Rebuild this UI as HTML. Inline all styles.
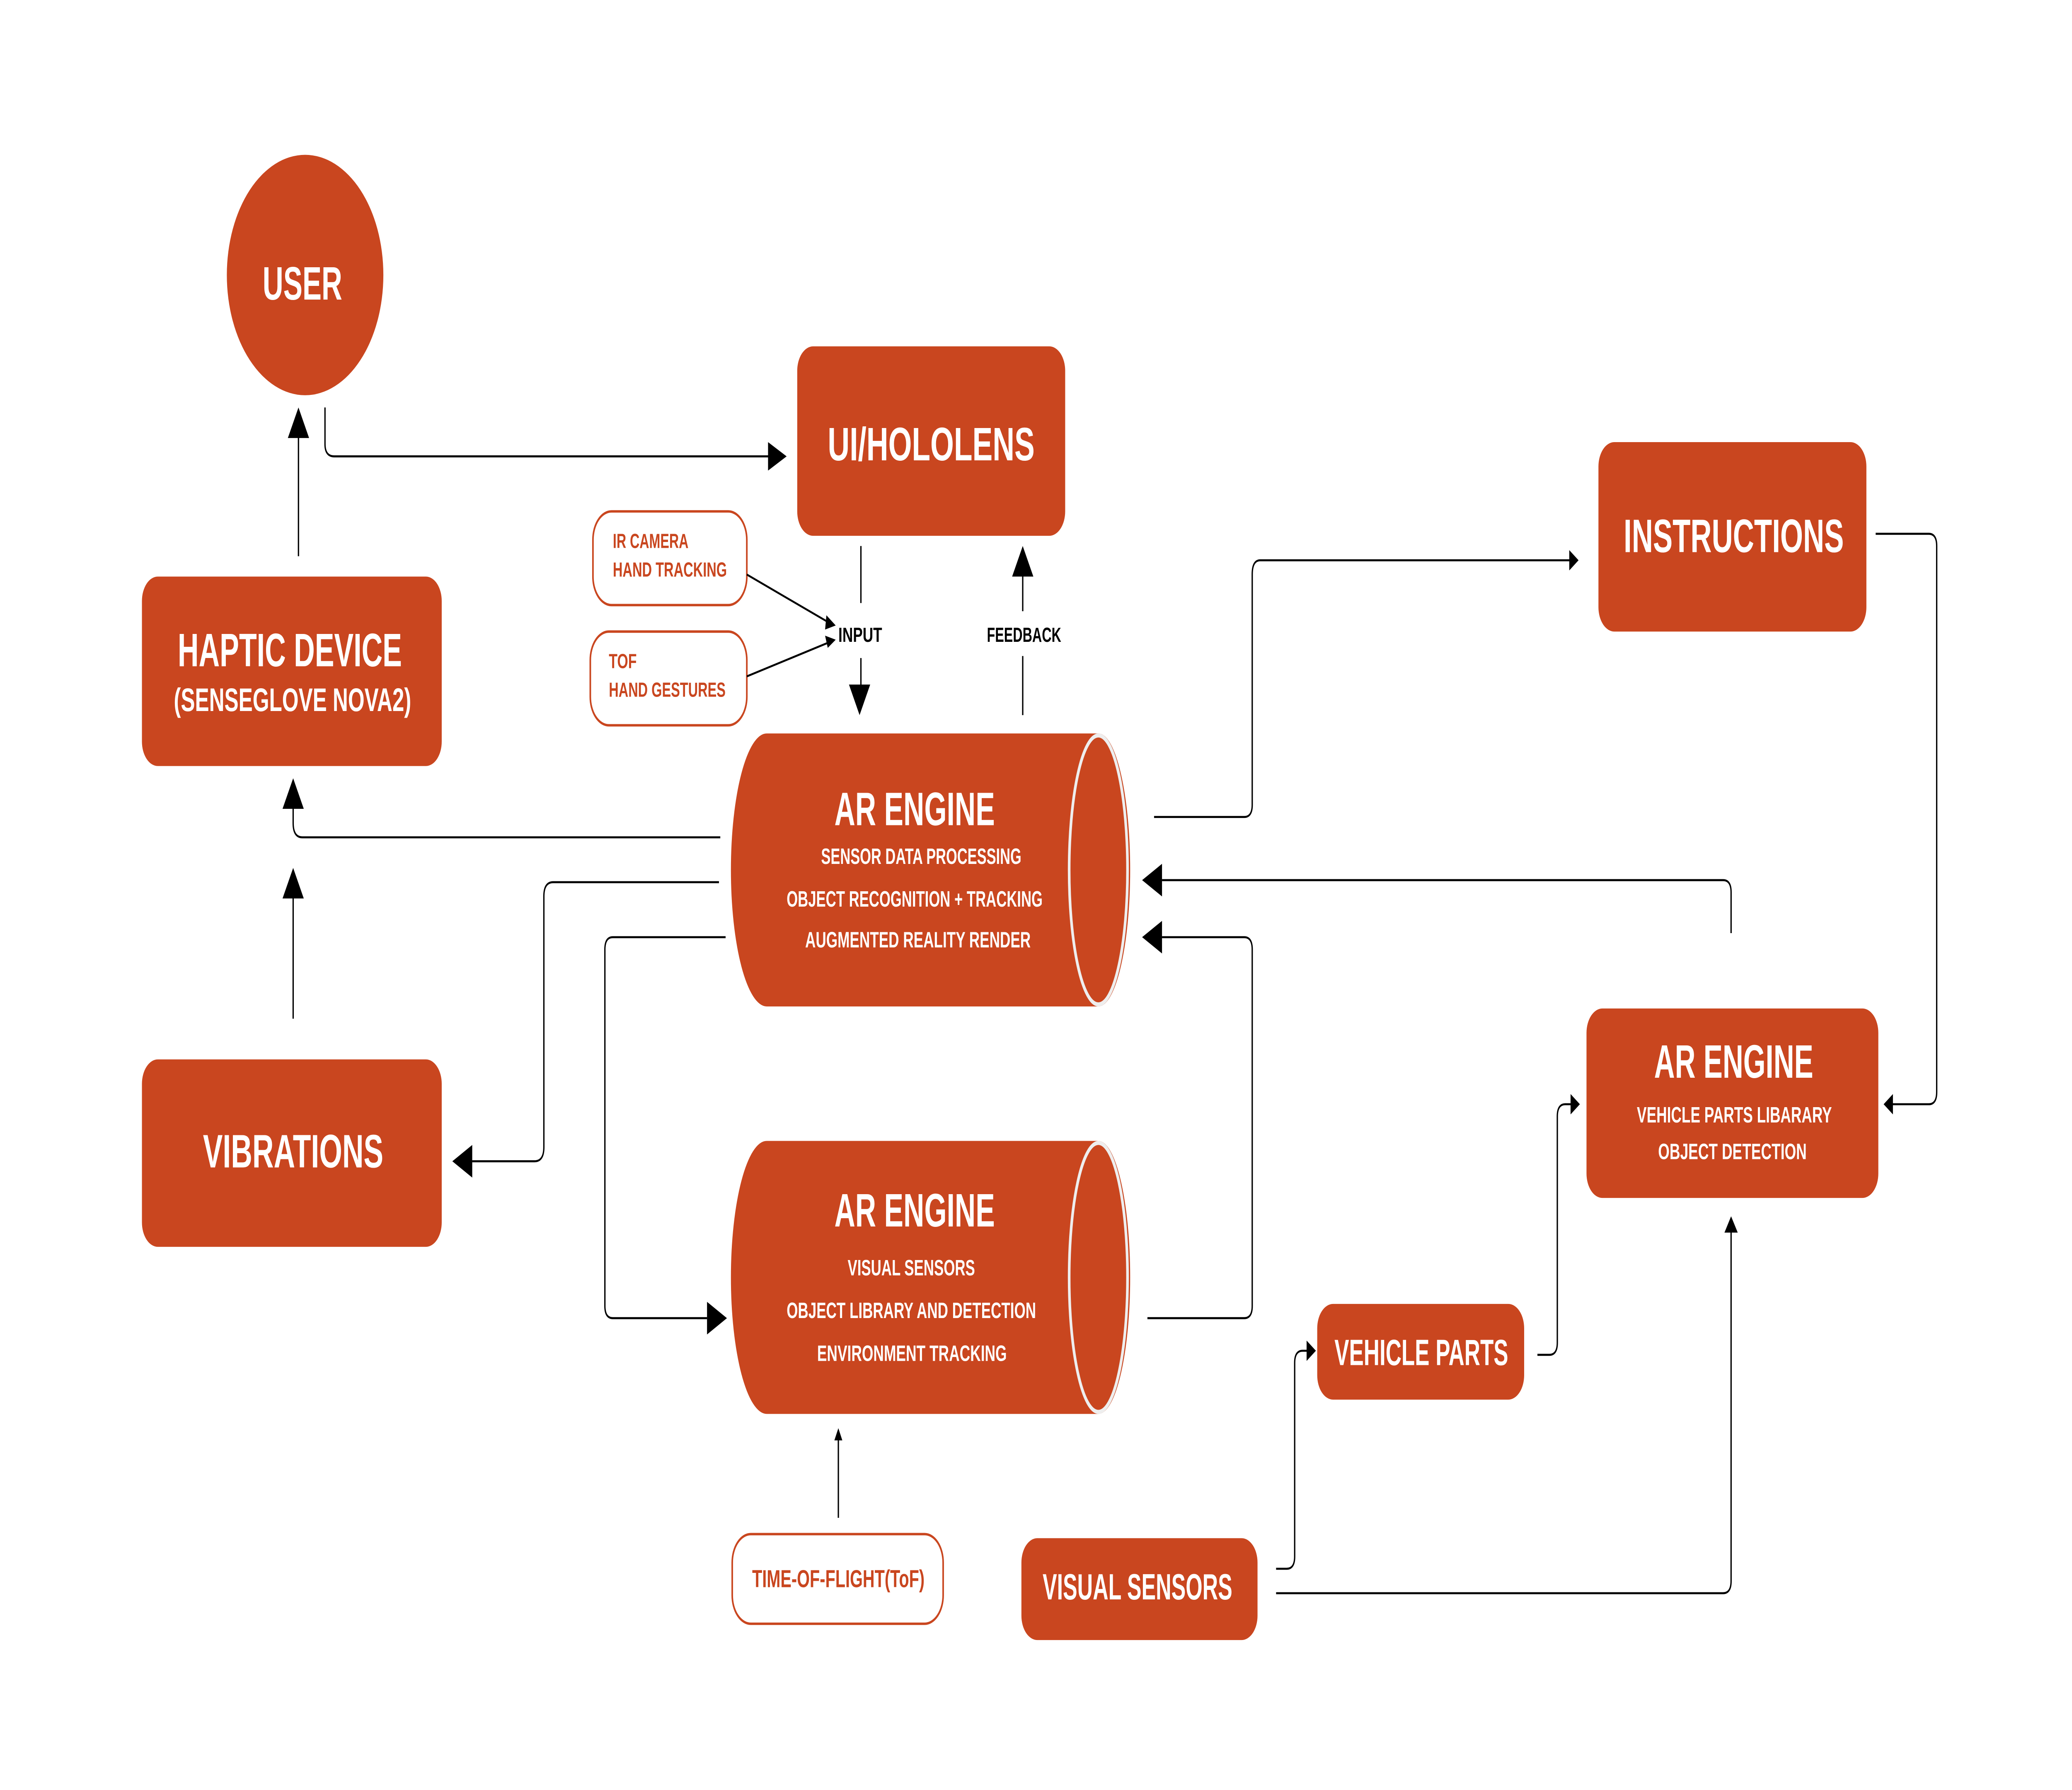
<!DOCTYPE html>
<html><head><meta charset="utf-8"><style>
html,body{margin:0;padding:0;background:#fff;overflow:hidden;width:100%;height:100%;}
svg{display:block;width:100vw;height:100vh;}
text{font-family:"Liberation Sans",sans-serif;font-weight:bold;}
.w{fill:#fff;}
.o{fill:#C9461F;}
.k{fill:#000;}
.l{fill:none;stroke:#000;stroke-width:1;}
</style></head><body>
<svg viewBox="0 0 1562 878.6" preserveAspectRatio="none" xmlns="http://www.w3.org/2000/svg">
<rect width="1562" height="878.6" fill="#fff"/>
<g fill="#C9461F">
<circle cx="230" cy="135" r="59"/>
<rect x="601" y="170" width="202" height="93" rx="12"/>
<rect x="1205" y="217" width="202" height="93" rx="12"/>
<rect x="107" y="283" width="226" height="93" rx="12"/>
<rect x="107" y="520" width="226" height="92" rx="12"/>
<rect x="1196" y="495" width="220" height="93" rx="12"/>
<rect x="993" y="640" width="156" height="47" rx="12"/>
<rect x="770" y="755" width="178" height="50" rx="12"/>
<path d="M578,360 L828,360 A24,67 0 0 1 828,494 L578,494 A27,67 0 0 1 578,360 Z"/>
<path d="M578,560 L828,560 A24,67 0 0 1 828,694 L578,694 A27,67 0 0 1 578,560 Z"/>
</g>
<ellipse cx="828" cy="427" rx="22" ry="66" fill="none" stroke="#eee" stroke-width="2"/>
<ellipse cx="828" cy="627" rx="22" ry="66" fill="none" stroke="#eee" stroke-width="2"/>
<g fill="#fff" stroke="#C9461F" stroke-width="1.2">
<rect x="447" y="251" width="116" height="46" rx="14"/>
<rect x="445" y="310" width="118" height="46" rx="14"/>
<rect x="552" y="753" width="159" height="44" rx="14"/>
</g>
<text class="w" x="198" y="147" font-size="23" textLength="60" lengthAdjust="spacingAndGlyphs">USER</text>
<text class="w" x="624" y="226" font-size="23" textLength="156" lengthAdjust="spacingAndGlyphs">UI/HOLOLENS</text>
<text class="w" x="1224" y="271" font-size="23" textLength="166" lengthAdjust="spacingAndGlyphs">INSTRUCTIONS</text>
<text class="w" x="134" y="327" font-size="23" textLength="169" lengthAdjust="spacingAndGlyphs">HAPTIC DEVICE</text>
<text class="w" x="131" y="349" font-size="16" textLength="179" lengthAdjust="spacingAndGlyphs">(SENSEGLOVE NOVA2)</text>
<text class="w" x="153" y="573" font-size="23" textLength="136" lengthAdjust="spacingAndGlyphs">VIBRATIONS</text>
<text class="w" x="629" y="405" font-size="23" textLength="121" lengthAdjust="spacingAndGlyphs">AR ENGINE</text>
<text class="w" x="619" y="424" font-size="11" textLength="151" lengthAdjust="spacingAndGlyphs">SENSOR DATA PROCESSING</text>
<text class="w" x="593" y="445" font-size="11" textLength="193" lengthAdjust="spacingAndGlyphs">OBJECT RECOGNITION + TRACKING</text>
<text class="w" x="607" y="465" font-size="11" textLength="170" lengthAdjust="spacingAndGlyphs">AUGMENTED REALITY RENDER</text>
<text class="w" x="629" y="602" font-size="23" textLength="121" lengthAdjust="spacingAndGlyphs">AR ENGINE</text>
<text class="w" x="639" y="626" font-size="11" textLength="96" lengthAdjust="spacingAndGlyphs">VISUAL SENSORS</text>
<text class="w" x="593" y="647" font-size="11" textLength="188" lengthAdjust="spacingAndGlyphs">OBJECT LIBRARY AND DETECTION</text>
<text class="w" x="616" y="668" font-size="11" textLength="143" lengthAdjust="spacingAndGlyphs">ENVIRONMENT TRACKING</text>
<text class="w" x="1247" y="529" font-size="23" textLength="120" lengthAdjust="spacingAndGlyphs">AR ENGINE</text>
<text class="w" x="1234" y="551" font-size="11" textLength="147" lengthAdjust="spacingAndGlyphs">VEHICLE PARTS LIBARARY</text>
<text class="w" x="1250" y="569" font-size="11" textLength="112" lengthAdjust="spacingAndGlyphs">OBJECT  DETECTION</text>
<text class="w" x="1006" y="670" font-size="18" textLength="131" lengthAdjust="spacingAndGlyphs">VEHICLE PARTS</text>
<text class="w" x="786" y="785" font-size="18" textLength="143" lengthAdjust="spacingAndGlyphs">VISUAL SENSORS</text>
<text class="o" x="567" y="779" font-size="12" textLength="130" lengthAdjust="spacingAndGlyphs">TIME-OF-FLIGHT(ToF)</text>
<text class="o" x="462" y="269" font-size="10" textLength="57" lengthAdjust="spacingAndGlyphs">IR CAMERA</text>
<text class="o" x="462" y="283" font-size="10" textLength="86" lengthAdjust="spacingAndGlyphs">HAND TRACKING</text>
<text class="o" x="459" y="328" font-size="10" textLength="21" lengthAdjust="spacingAndGlyphs">TOF</text>
<text class="o" x="459" y="342" font-size="10" textLength="88" lengthAdjust="spacingAndGlyphs">HAND GESTURES</text>
<text class="k" x="632" y="315" font-size="10" textLength="33" lengthAdjust="spacingAndGlyphs">INPUT</text>
<text class="k" x="744" y="315" font-size="10" textLength="56" lengthAdjust="spacingAndGlyphs">FEEDBACK</text>
<g class="l">
<path d="M245,200 V218 Q245,224 252,224 H580"/>
<path d="M225,273 V214"/>
<path d="M649,268 V296"/>
<path d="M649,323 V337"/>
<path d="M771,351 V322"/>
<path d="M771,300 V283"/>
<path d="M563,282 L626,306"/>
<path d="M563,332 L626,315"/>
<path d="M543,411 H228 Q221,411 221,404 V396"/>
<path d="M221,500 V440"/>
<path d="M542,433 H417 Q410,433 410,440 V563 Q410,570 403,570 H356"/>
<path d="M547,460 H462 Q456,460 456,466 V641 Q456,647 462,647 H533"/>
<path d="M865,647 H938 Q944,647 944,641 V466 Q944,460 938,460 H876"/>
<path d="M1305,458 V438 Q1305,432 1299,432 H876"/>
<path d="M870,401 H938 Q944,401 944,395 V282 Q944,275 950,275 H1184"/>
<path d="M1414,262 H1454 Q1460,262 1460,268 V536 Q1460,542 1454,542 H1426"/>
<path d="M1159,665 H1168 Q1174,665 1174,659 V548 Q1174,542 1180,542 H1185"/>
<path d="M962,770 H970 Q976,770 976,764 V669 Q976,663 982,663 H986"/>
<path d="M962,782 H1299 Q1305,782 1305,776 V604"/>
<path d="M632,745 V706"/>
</g>
<g fill="#000">
<polygon points="593,224 579,217 579,231"/>
<polygon points="225,200 217,215 233,215"/>
<polygon points="648,351 640,336 656,336"/>
<polygon points="771,268 763,283 779,283"/>
<polygon points="630,307 623,302 622,309"/>
<polygon points="630,314 622,312 624,318"/>
<polygon points="221,382 213,397 229,397"/>
<polygon points="221,426 213,441 229,441"/>
<polygon points="341,570 356,562 356,578"/>
<polygon points="548,647 533,639 533,655"/>
<polygon points="861,460 876,452 876,468"/>
<polygon points="861,432 876,424 876,440"/>
<polygon points="1190,275 1183,270 1183,280"/>
<polygon points="1420,542 1427,537 1427,547"/>
<polygon points="1191,542 1184,537 1184,547"/>
<polygon points="992,663 985,658 985,668"/>
<polygon points="1305,597 1300,605 1310,605"/>
<polygon points="632,701 629,707 635,707"/>
</g>
</svg>
</body></html>
